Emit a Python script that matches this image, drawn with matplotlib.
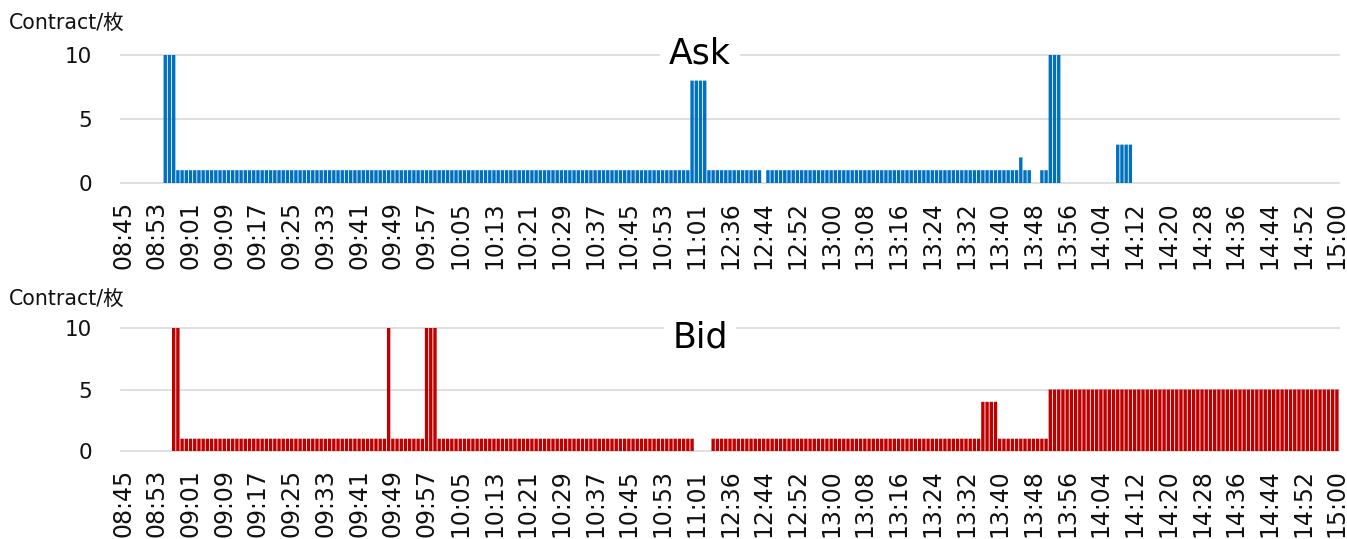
import numpy as np
import matplotlib
matplotlib.use("Agg")
import matplotlib.pyplot as plt

plt.rcParams["font.family"] = ["DejaVu Sans", "Noto Sans CJK JP"]

# contracts resting at best ask / best bid, one value per minute
ask = ([0] * 10 + [10] * 3 + [1] * 122 + [8] * 4 + [1] * 13 + [0] + [1] * 60
       + [2] + [1] * 2 + [0] * 2 + [1] * 2 + [10] * 3 + [0] * 13 + [3] * 4 + [0] * 49)
bid = ([0] * 12 + [10] * 2 + [1] * 49 + [10] + [1] * 8 + [10] * 3 + [1] * 61
       + [0] * 4 + [1] * 64 + [4] * 4 + [1] * 12 + [5] * 69)

tick_labels = ["08:45", "08:53", "09:01", "09:09", "09:17", "09:25", "09:33", "09:41",
               "09:49", "09:57", "10:05", "10:13", "10:21", "10:29", "10:37", "10:45",
               "10:53", "11:01", "12:36", "12:44", "12:52", "13:00", "13:08", "13:16",
               "13:24", "13:32", "13:40", "13:48", "13:56", "14:04", "14:12", "14:20",
               "14:28", "14:36", "14:44", "14:52", "15:00"]
TICK_STEP = 8
y_ticks = [0, 5, 10]
unit_label = "Contract/枚"

W, H = 1347, 539
fig = plt.figure(figsize=(W / 100, H / 100), dpi=100)

# (values, colour, title, axis bottom px, axis height px, title baseline px, unit baseline px)
panels = [
    (ask, "#0070C0", "Ask", 183, 128, 64, 30),
    (bid, "#C00000", "Bid", 451, 123, 348, 306),
]

for vals, col, title, y0, h, ty, uy in panels:
    n = len(vals)
    ax = fig.add_axes([121 / W, 1 - y0 / H, 1218 / W, h / H])
    ax.bar(np.arange(n), vals, width=0.8, color=col, zorder=2, snap=False)
    ax.set_xlim(-0.5, n - 0.5)
    ax.set_ylim(0, 10)
    ax.set_yticks(y_ticks)
    ax.set_xticks(np.arange(0, n, TICK_STEP))
    ax.set_xticklabels(tick_labels, rotation=90)
    ax.yaxis.grid(True, color="#D9D9D9", lw=1.2)
    for gl in ax.get_ygridlines():
        gl.set_clip_on(False)
    ax.set_axisbelow(True)
    for s in ax.spines.values():
        s.set_visible(False)
    ax.tick_params(axis="y", length=0, labelsize=15.5, pad=21, labelcolor="#111111")
    ax.tick_params(axis="x", length=0, labelsize=17, pad=13, labelcolor="#111111")

    fig.text(9 / W, 1 - uy / H, unit_label, fontsize=14.8, va="baseline", color="#111111")
    fig.text(700 / W, 1 - ty / H, title, fontsize=25, ha="center", va="baseline",
             color="#000000",
             bbox=dict(boxstyle="square,pad=0.25", fc="white", ec="none"))

fig.savefig("out.png", dpi=100)
